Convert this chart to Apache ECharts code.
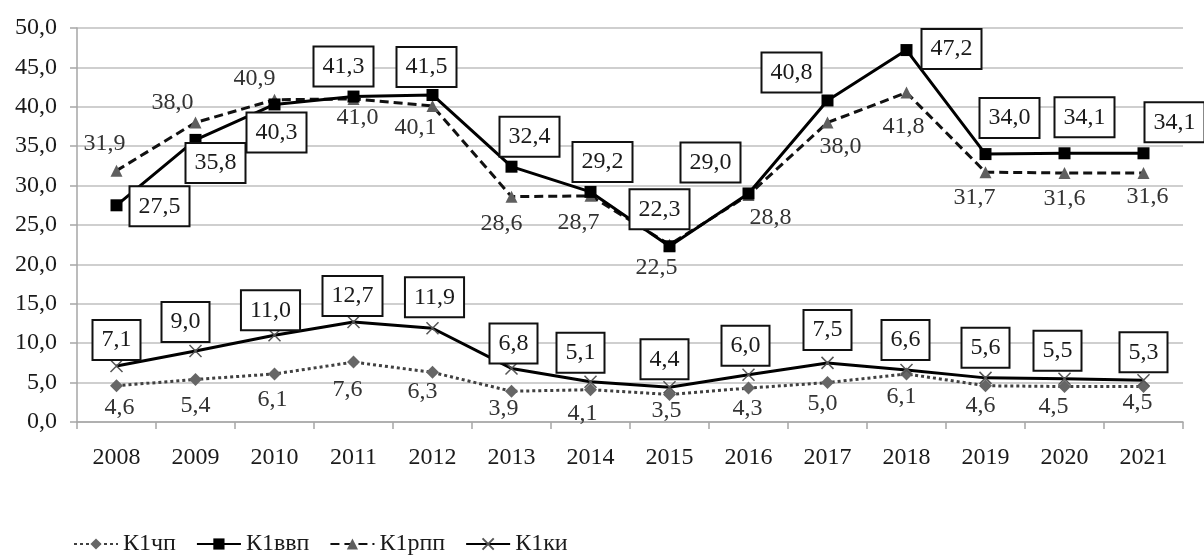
<!DOCTYPE html>
<html>
<head>
<meta charset="utf-8">
<script src="https://cdn.jsdelivr.net/npm/echarts@6/dist/echarts.min.js"></script>
<style>
html,body{margin:0;padding:0;background:#fff;}
#chart{width:1204px;height:556px;}
</style>
</head>
<body>
<div id="chart"></div>
<script>
// ---- data ----
const years = ['2008','2009','2010','2011','2012','2013','2014','2015','2016','2017','2018','2019','2020','2021'];
const k1chp = [4.6, 5.4, 6.1, 7.6, 6.3, 3.9, 4.1, 3.5, 4.3, 5.0, 6.1, 4.6, 4.5, 4.5];
const k1vvp = [27.5, 35.8, 40.3, 41.3, 41.5, 32.4, 29.2, 22.3, 29.0, 40.8, 47.2, 34.0, 34.1, 34.1];
const k1rpp = [31.9, 38.0, 40.9, 41.0, 40.1, 28.6, 28.7, 22.5, 28.8, 38.0, 41.8, 31.7, 31.6, 31.6];
const k1ki  = [7.1, 9.0, 11.0, 12.7, 11.9, 6.8, 5.1, 4.4, 6.0, 7.5, 6.6, 5.6, 5.5, 5.3];
const seriesNames = ['К1чп', 'К1ввп', 'К1рпп', 'К1ки'];

// ---- label placement (layout only) ----
const offVvp = [[43,1],[20,23],[2,28],[-10,-30],[-6,-28],[18,-30],[12,-30],[-10,-37],[-38,-31],[-36,-28],[45,-1],[24,-36],[20,-36],[31,-31]];
const offRpp = [[-12,-27],[-23,-20],[-20,-21],[4,19],[-17,22],[-10,27],[-12,27],[-13,23],[22,23],[13,24],[-3,34],[-11,25],[0,26],[4,24]];
const offKi  = [[0,-26],[-10,-29],[-4,-25],[-1,-26],[2,-31],[2,-25],[-10,-29],[-5,-28],[-3,-29],[0,-33],[-1,-30],[0,-30],[-7,-28],[0,-28]];
const offChp = [[3,22],[0,26],[-2,26],[-6,28],[-10,19],[-8,17],[-8,24],[-3,16],[-1,21],[-5,21],[-5,23],[-5,20],[-11,20],[-6,16]];

const FONT = "'Liberation Serif','Times New Roman',serif";
const fmt = v => Number(v).toFixed(1).replace('.', ',');

function withOffsets(vals, offs) {
  return vals.map((v, i) => ({ value: v, label: { offset: offs[i] } }));
}
const boxLabel = {
  show: true, position: 'inside', formatter: p => fmt(p.value),
  fontFamily: FONT, fontSize: 24, lineHeight: 24, color: '#1a1a1a',
  backgroundColor: '#fff', borderColor: '#111', borderWidth: 2, padding: [7, 8]
};
const plainLabel = {
  show: true, position: 'inside', formatter: p => fmt(p.value),
  fontFamily: FONT, fontSize: 24, lineHeight: 24, color: '#333'
};

const chart = echarts.init(document.getElementById('chart'), null, {renderer: 'canvas'});
chart.setOption({
  animation: false,
  backgroundColor: '#fff',
  grid: { left: 77, right: 21, top: 28, bottom: 134, containLabel: false },
  legend: {
    left: 68, top: 527, itemWidth: 44, itemHeight: 14, itemGap: 20,
    textStyle: { fontFamily: FONT, fontSize: 24, color: '#1a1a1a' },
    data: seriesNames
  },
  xAxis: {
    type: 'category', data: years, boundaryGap: true,
    axisLine: { show: true, lineStyle: { color: '#a6a6a6', width: 1.5 } },
    axisTick: { show: true, length: 7, lineStyle: { color: '#a6a6a6', width: 1.5 } },
    axisLabel: { margin: 24, fontFamily: FONT, fontSize: 24, color: '#1a1a1a' },
    splitLine: { show: false }
  },
  yAxis: {
    type: 'value', min: 0, max: 50, interval: 5,
    axisLine: { show: true, lineStyle: { color: '#a6a6a6', width: 1.5 } },
    axisTick: { show: true, length: 7, lineStyle: { color: '#a6a6a6', width: 1.5 } },
    axisLabel: { margin: 20, fontFamily: FONT, fontSize: 24, color: '#1a1a1a', formatter: v => fmt(v) },
    splitLine: { show: true, lineStyle: { color: '#bfbfbf', width: 1.5 } }
  },
  series: [
    {
      name: seriesNames[0], type: 'line', data: withOffsets(k1chp, offChp),
      symbol: 'diamond', symbolSize: 13, z: 3,
      lineStyle: { color: '#404040', width: 3, type: [3, 3] },
      itemStyle: { color: '#666' },
      label: plainLabel
    },
    {
      name: seriesNames[1], type: 'line', data: withOffsets(k1vvp, offVvp),
      symbol: 'rect', symbolSize: 12, z: 4,
      lineStyle: { color: '#000', width: 3 },
      itemStyle: { color: '#000' },
      label: boxLabel
    },
    {
      name: seriesNames[2], type: 'line', data: withOffsets(k1rpp, offRpp),
      symbol: 'triangle', symbolSize: 12, z: 3,
      lineStyle: { color: '#111', width: 3, type: [9, 5] },
      itemStyle: { color: '#5f5f5f' },
      label: plainLabel
    },
    {
      name: seriesNames[3], type: 'line', data: withOffsets(k1ki, offKi),
      symbol: 'path://M0,0L10,10M10,0L0,10', symbolSize: 12, z: 3,
      lineStyle: { color: '#000', width: 3 },
      itemStyle: { color: '#555', borderColor: '#555', borderWidth: 1.5 },
      label: boxLabel
    }
  ]
});
</script>
</body>
</html>
